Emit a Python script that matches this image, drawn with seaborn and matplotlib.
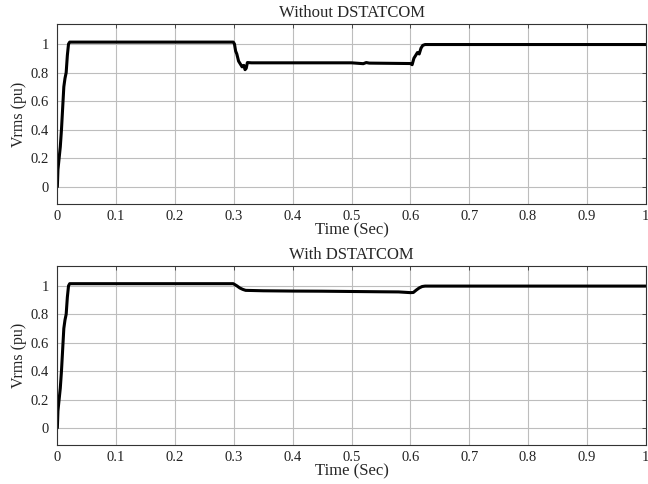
import matplotlib
matplotlib.use("Agg")
import matplotlib.pyplot as plt
import seaborn as sns
import pandas as pd

# time (s) and Vrms (pu)
t_without = [0.0, 0.001, 0.003, 0.005, 0.007, 0.009, 0.011, 0.013, 0.015, 0.017, 0.019, 0.021,
             0.1, 0.2, 0.299, 0.301, 0.303, 0.305, 0.308, 0.311, 0.314, 0.317, 0.319, 0.321, 0.323,
             0.33, 0.4, 0.5, 0.52, 0.525, 0.53, 0.6, 0.603, 0.606, 0.609, 0.612, 0.615, 0.618,
             0.621, 0.625, 0.7, 0.8, 0.9, 1.0]
v_without = [0.0, 0.12, 0.2, 0.28, 0.4, 0.55, 0.7, 0.76, 0.8, 0.92, 1.0, 1.013,
             1.013, 1.013, 1.013, 1.0, 0.95, 0.93, 0.88, 0.86, 0.84, 0.85, 0.82, 0.83, 0.87,
             0.868, 0.868, 0.868, 0.862, 0.87, 0.866, 0.863, 0.855, 0.9, 0.92, 0.94, 0.93, 0.97,
             0.99, 0.996, 0.996, 0.996, 0.996, 0.996]

t_with = [0.0, 0.001, 0.003, 0.005, 0.007, 0.009, 0.011, 0.013, 0.015, 0.017, 0.019, 0.021,
          0.1, 0.2, 0.299, 0.305, 0.31, 0.315, 0.32, 0.35, 0.4, 0.45, 0.5, 0.55, 0.58,
          0.6, 0.605, 0.61, 0.615, 0.62, 0.625, 0.7, 0.8, 0.9, 1.0]
v_with = [0.0, 0.12, 0.2, 0.28, 0.4, 0.55, 0.7, 0.76, 0.8, 0.92, 1.0, 1.015,
          1.015, 1.015, 1.015, 1.0, 0.985, 0.975, 0.968, 0.965, 0.963, 0.962, 0.96, 0.958, 0.957,
          0.952, 0.953, 0.97, 0.985, 0.995, 0.998, 0.998, 0.998, 0.998, 0.998]

titles = ["Without DSTATCOM", "With DSTATCOM"]
xticks = [0, 0.1, 0.2, 0.3, 0.4, 0.5, 0.6, 0.7, 0.8, 0.9, 1]
xticklabels = ["0", "0.1", "0.2", "0.3", "0.4", "0.5", "0.6", "0.7", "0.8", "0.9", "1"]
yticks = [0, 0.2, 0.4, 0.6, 0.8, 1]
yticklabels = ["0", "0.2", "0.4", "0.6", "0.8", "1"]

sns.set_style("whitegrid")
plt.rcParams['font.family'] = ['Liberation Serif', 'DejaVu Serif']
plt.rcParams['xtick.direction'] = 'in'
plt.rcParams['ytick.direction'] = 'in'

fig = plt.figure(figsize=(6.48, 4.84), dpi=100)
ax1 = fig.add_axes([0.0885, 0.5785, 0.908, 0.372])
ax2 = fig.add_axes([0.0885, 0.0806, 0.908, 0.370])

data = [pd.DataFrame({'t': t_without, 'v': v_without}),
        pd.DataFrame({'t': t_with, 'v': v_with})]

for ax, df, title in zip([ax1, ax2], data, titles):
    sns.lineplot(x='t', y='v', data=df, ax=ax, color='black', linewidth=2.2,
                 estimator=None, sort=False)
    ax.set_xlim(0, 1)
    ax.set_ylim(-0.12, 1.14)
    ax.set_xticks(xticks)
    ax.set_xticklabels(xticklabels, fontsize=10.5)
    ax.set_yticks(yticks)
    ax.set_yticklabels(yticklabels, fontsize=10.5)
    ax.set_xlabel('Time (Sec)', fontsize=12, labelpad=0)
    ax.set_ylabel('Vrms (pu)', fontsize=11.5, labelpad=3)
    ax.set_title(title, fontsize=12, pad=5)
    ax.grid(True, color='#bdbdbd', linewidth=0.8)
    ax.tick_params(axis='both', which='both', length=3, width=0.6, color='#333333',
                   top=True, right=True, labelcolor='#222222')
    ax.tick_params(axis='x', pad=4)
    ax.tick_params(axis='y', pad=6)
    for s in ax.spines.values():
        s.set_color('#333333')
        s.set_linewidth(0.8)

fig.savefig('out.png', dpi=100)
